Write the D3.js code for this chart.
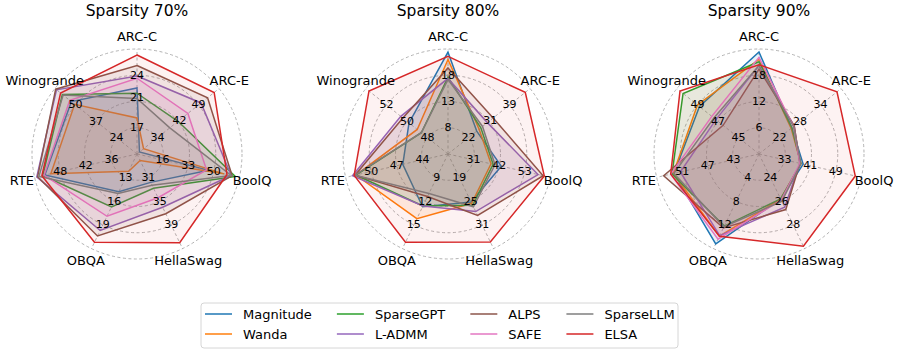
<!DOCTYPE html>
<html>
<head>
<meta charset="utf-8">
<script src="https://cdn.jsdelivr.net/npm/d3@7"></script>
<style>
  body { margin: 0; background: #fff; }
  svg { font-family: "DejaVu Sans", sans-serif; }
</style>
</head>
<body>
<script>
const axisNames = ["ARC-C", "ARC-E", "BoolQ", "HellaSwag", "OBQA", "RTE", "Winogrande"]
const methods = ["Magnitude", "Wanda", "SparseGPT", "L-ADMM", "ALPS", "SAFE", "SparseLLM", "ELSA"]
const colors = ["#1f77b4", "#ff7f0e", "#2ca02c", "#9467bd", "#8c564b", "#e377c2", "#7f7f7f", "#d62728"]
const fillAlpha = [0.1, 0.1, 0.1, 0.1, 0.1, 0.1, 0.1, 0.06]
const sparsities = ["70%", "80%", "90%"]

// ring labels for each axis (inner, middle, outer ring)
const ticks70 = [[17, 21, 24], [34, 42, 49], [16, 33, 50], [31, 35, 39], [13, 16, 19], [36, 42, 48], [24, 37, 50]]
const ticks80 = [[8, 13, 18], [22, 31, 39], [31, 42, 53], [19, 25, 31], [9, 12, 15], [44, 47, 50], [48, 50, 52]]
const ticks90 = [[6, 12, 18], [22, 28, 34], [33, 41, 49], [24, 26, 28], [4, 8, 12], [43, 47, 51], [45, 47, 49]]

// accuracy, one row per method, columns in axisNames order
const acc70 = [
  [22.3, 27.4, 46.6, 31.8, 14.8, 51.6, 52.6],
  [18.3, 28.9, 56.8, 28.1, 12.2, 50.2, 50.5],
  [21.6, 41.5, 64.3, 32.8, 16.7, 52.1, 58.3],
  [23.9, 49.9, 61.6, 36.0, 19.7, 53.5, 62.0],
  [25.3, 52.3, 62.2, 37.1, 20.4, 53.3, 62.5],
  [23.6, 45.1, 45.2, 34.4, 17.9, 51.8, 53.6],
  [20.9, 38.5, 61.6, 32.3, 15.0, 53.0, 57.8],
  [26.7, 54.7, 58.8, 42.0, 21.2, 52.3, 59.4]
]
const acc80 = [
  [22.4, 25.4, 42.9, 25.2, 12.7, 46.3, 49.8],
  [21.0, 26.4, 38.5, 25.5, 14.2, 51.8, 49.0],
  [17.6, 27.1, 39.4, 26.0, 12.6, 51.8, 48.6],
  [17.4, 29.8, 58.7, 27.6, 12.6, 52.2, 50.6],
  [19.4, 32.2, 60.9, 28.6, 11.4, 51.9, 50.4],
  null,
  [17.2, 27.8, 40.2, 26.4, 11.0, 51.9, 48.6],
  [21.6, 45.5, 61.4, 35.3, 17.2, 52.0, 53.7]
]
const acc90 = [
  [23.3, 25.6, 38.8, 25.8, 15.2, 52.3, 48.8],
  [21.6, 25.4, 38.1, 25.8, 13.9, 52.4, 49.0],
  [21.1, 25.6, 38.1, 25.8, 12.2, 52.6, 50.4],
  [20.2, 26.3, 37.8, 26.5, 13.8, 51.3, 47.2],
  [19.4, 26.3, 37.8, 26.7, 12.5, 53.9, 46.5],
  [22.1, 26.1, 37.8, 25.9, 14.4, 52.8, 47.6],
  [20.2, 26.1, 38.1, 26.0, 12.3, 52.3, 47.4],
  [20.4, 38.8, 55.1, 29.8, 13.9, 52.8, 50.7]
]

const panels = [
  { name: "70%", ticks: ticks70, acc: acc70 },
  { name: "80%", ticks: ticks80, acc: acc80 },
  { name: "90%", ticks: ticks90, acc: acc90 }
]

const w = 897
const h = 350
const R = 105
const cy = 154
const rings = [0.25, 0.5, 0.75, 1]

const svg = d3.select("body")
  .append("svg")
  .attr("width", w)
  .attr("height", h)

const xPanel = d3.scalePoint()
  .domain(sparsities)
  .range([137, 759])

const angle = d3.scaleLinear()
  .domain([0, axisNames.length])
  .range([0, 2 * Math.PI])

const pt = (a, r) => [r * Math.sin(a), -r * Math.cos(a)]

panels.forEach(p => {
  const g = svg.append("g")
    .attr("transform", `translate(${xPanel(p.name)}, ${cy})`)

  // one radial scale per axis, fixed by its ring labels
  const rScales = p.ticks.map(t => d3.scaleLinear()
    .domain([t[0], t[2]])
    .range([0.25 * R, 0.75 * R]))

  g.selectAll("circle.ring")
    .data(rings)
    .enter()
    .append("circle")
    .attr("class", "ring")
    .attr("r", d => d * R)
    .attr("fill", "none")
    .attr("stroke", "#a0a0a0")
    .attr("stroke-width", 0.8)
    .attr("stroke-dasharray", "3,2.5")

  g.selectAll("line.spoke")
    .data(axisNames)
    .enter()
    .append("line")
    .attr("class", "spoke")
    .attr("x1", 0)
    .attr("y1", 0)
    .attr("x2", (d, i) => pt(angle(i), R)[0])
    .attr("y2", (d, i) => pt(angle(i), R)[1])
    .attr("stroke", "#a0a0a0")
    .attr("stroke-width", 0.8)
    .attr("stroke-dasharray", "3,2.5")

  const line = d3.line().curve(d3.curveLinearClosed)

  p.acc.forEach((row, m) => {
    if (!row) return
    const pts = row.map((v, i) => pt(angle(i), Math.max(0, rScales[i](v))))
    g.append("path")
      .attr("d", line(pts))
      .attr("fill", colors[m])
      .attr("fill-opacity", fillAlpha[m])
      .attr("stroke", "none")
    g.append("path")
      .attr("d", line(pts))
      .attr("fill", "none")
      .attr("stroke", colors[m])
      .attr("stroke-width", 1.5)
      .attr("stroke-linejoin", "miter")
  })

  // ring labels on every axis
  p.ticks.forEach((t, i) => {
    t.forEach(v => {
      const xy = pt(angle(i), rScales[i](v))
      g.append("text")
        .attr("x", xy[0])
        .attr("y", xy[1])
        .attr("text-anchor", "middle")
        .attr("dominant-baseline", "central")
        .attr("font-size", 11)
        .attr("fill", "#000")
        .text(v)
    })
  })

  g.selectAll("text.axis-label")
    .data(axisNames)
    .enter()
    .append("text")
    .attr("class", "axis-label")
    .attr("x", (d, i) => pt(angle(i), R + 13)[0])
    .attr("y", (d, i) => pt(angle(i), R + 13)[1])
    .attr("text-anchor", "middle")
    .attr("dominant-baseline", "central")
    .attr("font-size", 13)
    .text(d => d)

  svg.append("text")
    .attr("x", xPanel(p.name))
    .attr("y", 16)
    .attr("text-anchor", "middle")
    .attr("font-size", 15.5)
    .text(`Sparsity ${p.name}`)
})

// legend, 4 columns x 2 rows
const legend = svg.append("g").attr("id", "legend")
legend.append("rect")
  .attr("x", 201)
  .attr("y", 303)
  .attr("width", 477)
  .attr("height", 45)
  .attr("rx", 3)
  .attr("fill", "#fff")
  .attr("stroke", "#cccccc")
  .attr("stroke-width", 0.8)

let colX = 205
for (let c = 0; c < 4; c++) {
  let maxW = 0
  for (let r = 0; r < 2; r++) {
    const m = c * 2 + r
    const y = 314 + r * 20
    legend.append("line")
      .attr("x1", colX)
      .attr("x2", colX + 27)
      .attr("y1", y)
      .attr("y2", y)
      .attr("stroke", colors[m])
      .attr("stroke-width", 1.5)
    const t = legend.append("text")
      .attr("x", colX + 38)
      .attr("y", y)
      .attr("dominant-baseline", "central")
      .attr("font-size", 13)
      .text(methods[m])
    maxW = Math.max(maxW, t.node().getComputedTextLength())
  }
  colX += 38 + maxW + 25
}
</script>
</body>
</html>
